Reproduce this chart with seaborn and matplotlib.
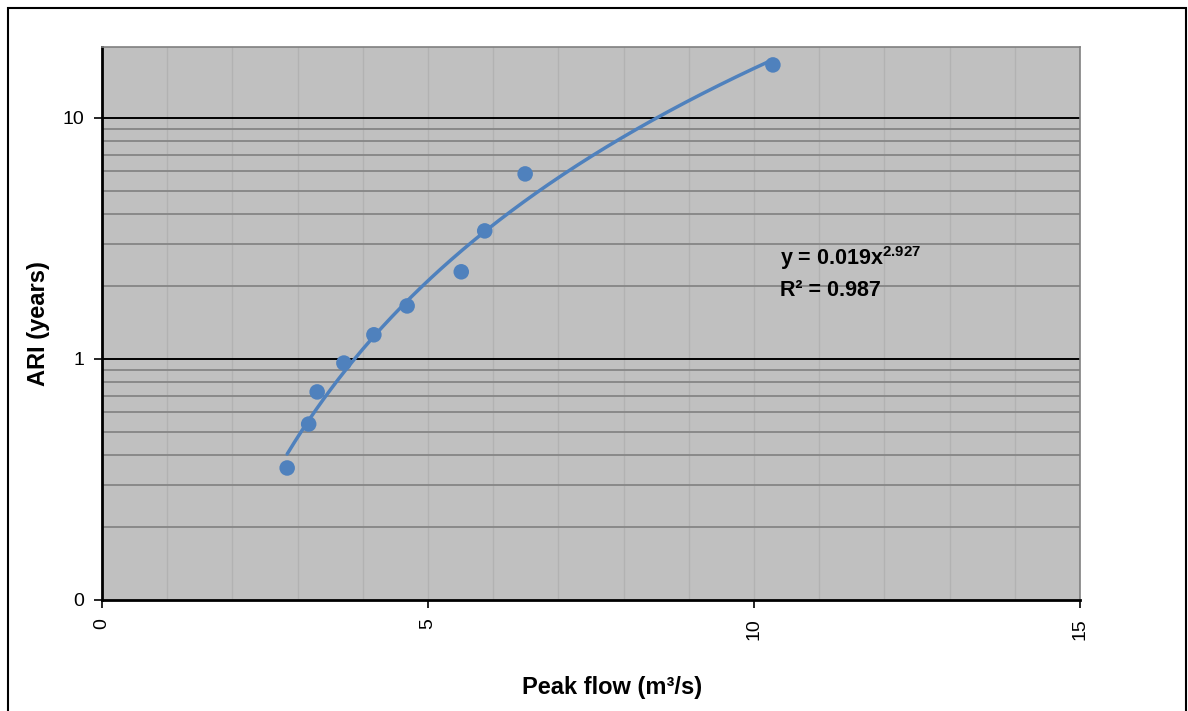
import numpy as np
import pandas as pd
import seaborn as sns
import matplotlib.pyplot as plt
from matplotlib.patches import Rectangle
from matplotlib.ticker import FixedLocator, FuncFormatter

# observed peak flows and their ARI
peak_flow = [2.84, 3.17, 3.30, 3.71, 4.17, 4.68, 5.51, 5.87, 6.49, 10.29]
ari_years = [0.353, 0.537, 0.730, 0.962, 1.26, 1.66, 2.30, 3.40, 5.86, 16.6]

# power trendline shown on the chart
coef_a = 0.019
coef_b = 2.927
r_squared = 0.987

x_ticks = [0, 5, 10, 15]
y_ticks = [0.1, 1, 10]

blue = '#4F81BD'

sns.set_style('ticks')
plt.rcParams['font.family'] = ['Liberation Sans', 'DejaVu Sans']
plt.rcParams['mathtext.fontset'] = 'custom'
plt.rcParams['mathtext.rm'] = 'Liberation Sans'
plt.rcParams['mathtext.bf'] = 'Liberation Sans:bold'
plt.rcParams['text.color'] = 'black'
plt.rcParams['xtick.color'] = 'black'
plt.rcParams['ytick.color'] = 'black'
plt.rcParams['axes.labelcolor'] = 'black'

df = pd.DataFrame({'flow': peak_flow, 'ari': ari_years})
xs = np.linspace(min(peak_flow), max(peak_flow), 200)
trend = pd.DataFrame({'flow': xs, 'ari': coef_a * xs ** coef_b})

fig = plt.figure(figsize=(11.88, 7.11), dpi=100)
ax = fig.add_axes([102 / 1188, 1 - 600 / 711, 978 / 1188, 553 / 711])
ax.set_facecolor('#C0C0C0')
ax.set_yscale('log')
ax.set_xlim(0, 15)
ax.set_ylim(0.1, 19.7)

# gridlines like the excel chart
for v in range(1, 15):
    ax.axvline(v, color='#B2B2B2', lw=1.0, zorder=0.5)
for dec in [0.1, 1, 10]:
    for m in range(2, 10):
        if dec * m < 19.7:
            ax.axhline(dec * m, color='#858585', lw=1.3, zorder=0.6)
for v in [1, 10]:
    ax.axhline(v, color='black', lw=1.4, zorder=0.7)

sns.lineplot(data=trend, x='flow', y='ari', color=blue, lw=2.5, ax=ax, zorder=3)
sns.scatterplot(data=df, x='flow', y='ari', color=blue, s=125, edgecolor='none', ax=ax, zorder=4)

ax.xaxis.set_major_locator(FixedLocator(x_ticks))
ax.yaxis.set_major_locator(FixedLocator(y_ticks))
ax.yaxis.set_minor_locator(FixedLocator([]))
ax.yaxis.set_major_formatter(FuncFormatter(lambda v, p: '{:.0f}'.format(v)))
ax.tick_params(axis='x', labelrotation=90, labelsize=14, length=6, width=1.2, pad=7)
ax.tick_params(axis='y', labelsize=14, length=6, width=1.2, pad=7)

for side in ['top', 'right']:
    ax.spines[side].set_color('#808080')
    ax.spines[side].set_linewidth(1.2)
for side in ['left', 'bottom']:
    ax.spines[side].set_color('black')
    ax.spines[side].set_linewidth(2)

ax.set_xlabel('Peak flow (m³/s)', fontsize=17, fontweight='bold', va='center')
ax.set_ylabel('ARI (years)', fontsize=17, fontweight='bold', va='center')
ax.xaxis.set_label_coords(0.522, -0.159)
ax.yaxis.set_label_coords(-0.0654, 0.5)

ax.text(10.4, 2.62, r'y = 0.019x$^{\mathbf{2.927}}$', fontsize=15.5, fontweight='bold', va='center', ha='left')
ax.text(10.4, 1.93, 'R² = ' + str(r_squared), fontsize=15.5, fontweight='bold', va='center', ha='left')

# chart area border
fig.patches.append(Rectangle((8 / 1188, -0.05), 1178 / 1188, 1.05 - 8 / 711, transform=fig.transFigure,
                             fill=False, edgecolor='black', lw=1.5))

fig.savefig('out.png', dpi=100)
